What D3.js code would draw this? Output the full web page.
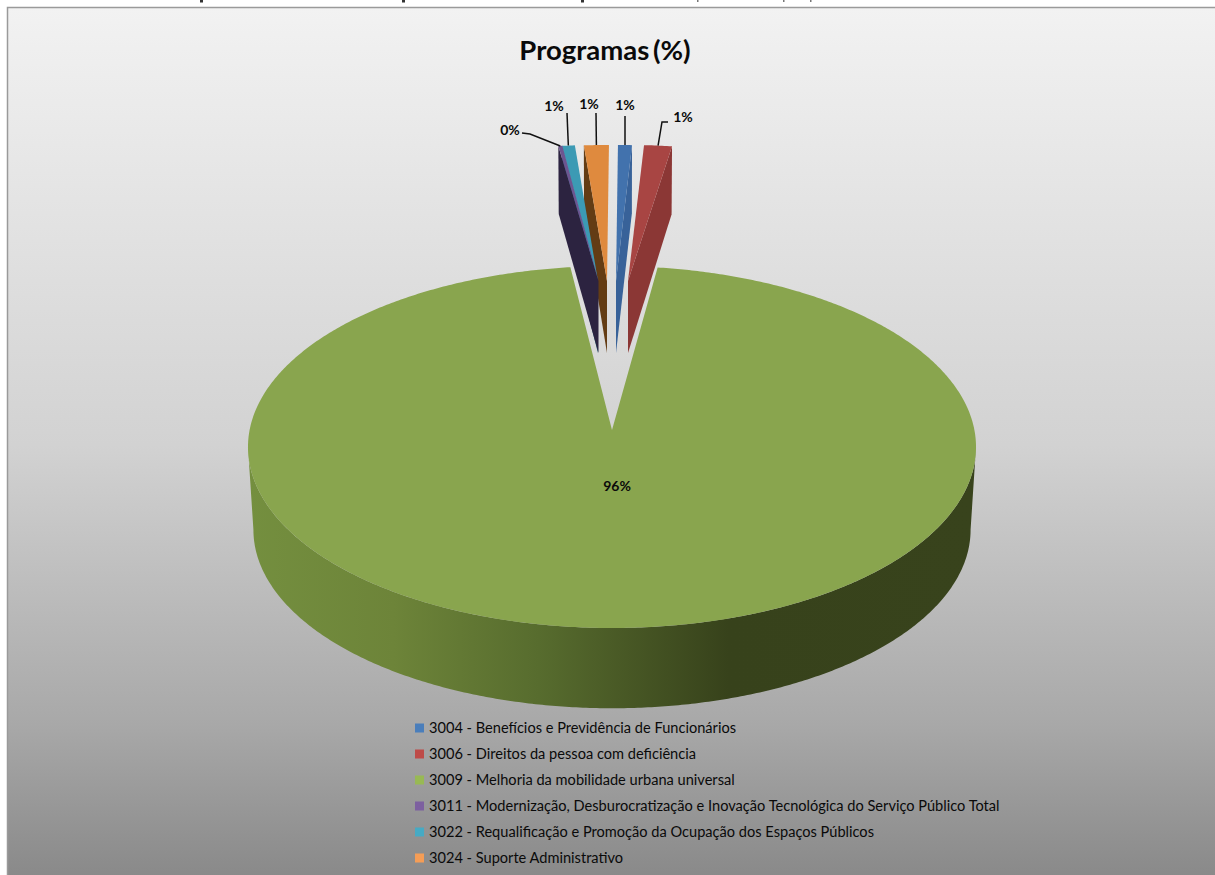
<!DOCTYPE html>
<html lang="pt">
<head>
<meta charset="utf-8">
<title>Programas (%)</title>
<script src="https://cdnjs.cloudflare.com/ajax/libs/d3/7.8.5/d3.min.js"></script>
<style>
html,body{margin:0;padding:0;background:#fff;overflow:hidden}
svg{display:block}
text{font-family:Lato,"Open Sans",sans-serif;fill:#0a0a0a}
</style>
</head>
<body>
<svg id="chart" width="1215" height="875"></svg>
<script>
// Program names and their share of the budget, in percent
const categories = [
  "3004 - Benefícios e Previdência de Funcionários",
  "3006 - Direitos da pessoa com deficiência",
  "3009 - Melhoria da mobilidade urbana universal",
  "3011 - Modernização, Desburocratização e Inovação Tecnológica do Serviço Público Total",
  "3022 - Requalificação e Promoção da Ocupação dos Espaços Públicos",
  "3024 - Suporte Administrativo"
];
const shares = [0.7, 1.4, 95.8, 0.2, 0.65, 1.25];
const chartTitle = "Programas (%)";

// Office palette: legend key, top face and side wall of each slice
const keyColors  = ["#4a7ebb", "#be4b48", "#98b954", "#7d60a0", "#46aac4", "#f59d56"];
const topColors  = ["#4272ad", "#a84543", "#89a54e", "#6d5590", "#3c9ab4", "#df8a3e"];
const wallColors = ["#386299", "#8b3735", "#5d7332", "#2c2340", "#1f5c6e", "#633c14"];

// Layout of the perspective view
const rad = Math.PI / 180;
const persp = 0.094;
const upper = {cx: 612, cy: 430, rx: 362.4, ry: 179.4};
const lower = {cx: 612, cy: 513, rx: 357, ry: 176.9};
// Pulled-out slices: apex shift, rim spread, apex height of the two planes
const apexShift = [4, 16, 0, -13.5, -14, -5];
const pulled = {rx: 320, topY: 281, topLen: 136, botY: 353, botLen: 140};
// Callout ends for the data labels
const callouts = [
  {bend: [625, 116], x: 625, y: 110},
  {bend: [662, 122], end: [668, 122], x: 683, y: 122},
  null,
  {bend: [530, 134], end: [522, 133], x: 510, y: 135},
  {bend: [567, 113], x: 554, y: 111},
  {bend: [596, 113], x: 589, y: 109}
];
const nearLabel = {x: 617, y: 491};
// Paint order of the pulled-out slices, from the centre outwards
const paintOrder = [5, 4, 3, 0, 1];

const svg = d3.select("#chart");
const defs = svg.append("defs");

// Panel background: light at the top, falling to mid grey
const bg = defs.append("linearGradient").attr("id", "panel")
  .attr("x1", 0).attr("y1", 0).attr("x2", 0).attr("y2", 1);
[[0, "#f2f2f2"], [0.5, "#d2d2d2"], [0.82, "#a8a8a8"], [1, "#888888"]]
  .forEach(([o, c]) => bg.append("stop").attr("offset", o).attr("stop-color", c));

// Side wall of the large slice, shaded from left to right
const wg = defs.append("linearGradient").attr("id", "wall")
  .attr("gradientUnits", "userSpaceOnUse")
  .attr("x1", 248).attr("y1", 0).attr("x2", 976).attr("y2", 0);
[[0, "#748f3f"], [0.2, "#6d8439"], [0.4, "#576c2e"], [0.52, "#485825"], [0.66, "#37421b"], [1, "#38431c"]]
  .forEach(([o, c]) => wg.append("stop").attr("offset", o).attr("stop-color", c));

svg.append("rect").attr("x", 7.5).attr("y", 7.5).attr("width", 1215).attr("height", 875)
  .attr("fill", "url(#panel)").attr("stroke", "#9a9a9a").attr("stroke-width", 1.5);

// Descenders of the caption line cut off above the panel
[200, 402, 581, 697, 783, 810].forEach((x, i) => {
  svg.append("rect").attr("x", x).attr("y", 0).attr("width", i < 3 ? 3 : 1.5).attr("height", i < 3 ? 2.5 : 2)
    .attr("fill", i < 3 ? "#333" : "#777");
});

const pie = d3.pie().sort(null).startAngle(0.35 * rad).endAngle(360.35 * rad);
const arcs = pie(shares);
const total = d3.sum(shares);
const pct = d3.format(".0%");
const line = d3.line();

// Point of a plane seen in perspective; angle runs clockwise from the far side
function onPlane(plane, r, a) {
  const z = r * Math.cos(a), s = 1 / (1 + persp * z);
  return [plane.cx + plane.rx * r * Math.sin(a) * s, plane.cy - plane.ry * z * s];
}
function sweep(a0, a1) {
  const n = Math.max(2, Math.ceil(Math.abs(a1 - a0) / (0.5 * rad)));
  const t = d3.scaleLinear().domain([0, n]).range([a0, a1]);
  return d3.range(n + 1).map(t);
}

// Large slice: visible outer wall first, then its top face
const big = arcs[2];
const edge = Math.acos(-persp);
const wallAngles = sweep(edge, 2 * Math.PI - edge);
const wallPath = wallAngles.map(a => onPlane(upper, 1, a))
  .concat(wallAngles.slice().reverse().map(a => onPlane(lower, 1, a)));
svg.append("path").attr("d", line(wallPath) + "Z").attr("fill", "url(#wall)");
const topPath = [onPlane(upper, 0, 0)].concat(sweep(big.startAngle, big.endAngle).map(a => onPlane(upper, 1, a)));
svg.append("path").attr("d", line(topPath) + "Z").attr("fill", topColors[2]);

// Small slices pulled away towards the far side
function apexOf(i, level) {
  return [upper.cx + apexShift[i], level === "top" ? pulled.topY : pulled.botY];
}
function rimOf(i, a, level) {
  const [ax, ay] = apexOf(i, level);
  const len = level === "top" ? pulled.topLen : pulled.botLen;
  const spread = level === "top" ? pulled.rx : pulled.rx * 0.99;
  return [ax + spread * Math.sin(a), ay - len * Math.cos(a)];
}
// Each slice shows the radial wall on the side away from the gap's middle
paintOrder.forEach(i => {
  const d = arcs[i];
  const turn = i >= 3 ? 2 * Math.PI : 0;
  const a0 = d.startAngle - turn, a1 = d.endAngle - turn;
  const wa = i >= 3 ? a0 : a1;
  const g = svg.append("g").attr("class", "slice");
  g.append("path").attr("fill", wallColors[i]).attr("d", line([
    rimOf(i, wa, "top"), rimOf(i, wa, "bot"), apexOf(i, "bot"), apexOf(i, "top")
  ]) + "Z");
  g.append("path").attr("fill", topColors[i]).attr("d", line(
    [apexOf(i, "top")].concat(sweep(a0, a1).map(a => rimOf(i, a, "top")))
  ) + "Z");
});

// Data labels and their leader lines
arcs.forEach((d, i) => {
  const text = pct(shares[i] / total);
  const c = callouts[i];
  if (!c) {
    svg.append("text").attr("x", nearLabel.x).attr("y", nearLabel.y).attr("text-anchor", "middle")
      .attr("font-size", 14).attr("font-weight", 700).text(text);
    return;
  }
  const turn = i >= 3 ? 2 * Math.PI : 0;
  const rim = rimOf(i, (d.startAngle + d.endAngle) / 2 - turn, "top");
  const pts = c.end ? [rim, c.bend, c.end] : [rim, c.bend];
  svg.append("path").attr("d", line(pts)).attr("fill", "none").attr("stroke", "#111").attr("stroke-width", 1.5);
  svg.append("text").attr("x", c.x).attr("y", c.y).attr("text-anchor", "middle")
    .attr("font-size", 14).attr("font-weight", 700).text(text);
});

// Title
svg.append("text").attr("x", 605).attr("y", 60).attr("text-anchor", "middle")
  .attr("font-size", 27.5).attr("font-weight", 700).attr("word-spacing", -3).text(chartTitle);

// Legend
const rowY = d3.scalePoint().domain(d3.range(categories.length)).range([728, 858]);
const rows = svg.append("g").selectAll("g").data(categories).join("g")
  .attr("transform", (d, i) => `translate(415,${rowY(i)})`);
rows.append("rect").attr("x", 0).attr("y", -4.5).attr("width", 9).attr("height", 9)
  .attr("fill", (d, i) => keyColors[i]);
rows.append("text").attr("x", 14).attr("y", 5).attr("font-size", 14.6).text(d => d);
</script>
</body>
</html>
